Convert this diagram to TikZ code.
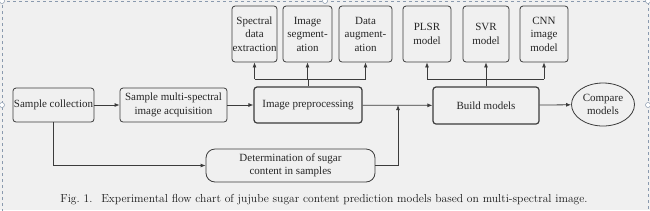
\documentclass[tikz,border=0pt]{standalone}
\usepackage{fontspec}
\newfontfamily\timesfont{Liberation Serif}
\usetikzlibrary{shapes.geometric,arrows.meta}
\definecolor{bgcol}{HTML}{F0F0F0}
\definecolor{linecol}{HTML}{3C3C3C}
\definecolor{framecol}{HTML}{8A9AAE}
\begin{document}
\begin{tikzpicture}[
        x=1pt, y=-1pt,
        box/.style={draw=linecol, line width=0.8pt, rounded corners=3pt, align=center, inner sep=0pt,
            font=\timesfont\fontsize{11}{13.5}\selectfont, text=black!85},
        topbox/.style={box, minimum height=56pt},
        flow/.style={-{Latex[length=5pt,width=4pt]}, draw=linecol, line width=0.8pt},
        wire/.style={draw=linecol, line width=0.8pt}
    ]
        \fill[bgcol] (0,0) rectangle (650,210);
        \useasboundingbox (0,0) rectangle (650,210);
        \draw[framecol, dashed, line width=0.6pt] (2,212) -- (2,1) -- (648,1) -- (648,212);
        \foreach \p in {(2,1),(325,1),(648,1),(2,105),(648,105)}
            \draw[framecol, fill=white, line width=0.5pt] \p circle (2.5pt);

        % main row
        \node[box, minimum width=81pt, minimum height=34pt] (collect) at (53.5,105) {Sample collection};
        \node[box, minimum width=107pt, minimum height=34pt] (acquire) at (173.5,105) {Sample multi-spectral\\image acquisition};
        \node[box, line width=1.2pt, minimum width=108pt, minimum height=36pt] (preproc) at (308,105) {Image preprocessing};
        \node[box, line width=1.2pt, minimum width=106pt, minimum height=37pt] (build) at (486,105.5) {Build models};
        \node[box, ellipse, minimum width=63pt, minimum height=43pt] (compare) at (603,104.5) {Compare\\models};
        \node[box, rounded corners=9pt, minimum width=169pt, minimum height=33pt] (sugar) at (290.5,165.5) {Determination of sugar\\content in samples};

        % top row
        \node[topbox, minimum width=45pt] (spectral) at (254.5,34) {Spectral\\data\\extraction};
        \node[topbox, minimum width=49pt] (segment) at (307.5,34) {Image\\segment-\\ation};
        \node[topbox, minimum width=53pt] (augment) at (365.5,34) {Data\\augment-\\ation};
        \node[topbox, minimum width=48pt] (plsr) at (427,34) {PLSR\\model};
        \node[topbox, minimum width=46pt] (svr) at (486,34) {SVR\\model};
        \node[topbox, minimum width=48pt] (cnn) at (544,34) {CNN\\image\\model};

        \node[font=\fontsize{11.6}{13}\selectfont, text=black!90] (caption) at (324,200) {Fig.~1.~ Experimental flow chart of jujube sugar content prediction models based on multi-spectral image.};

        \coordinate (bus1) at (308,79);
        \coordinate (bus2) at (486,79);
        \coordinate (join) at (398,105);

        \draw[flow] (collect) -- (acquire);
        \draw[flow] (acquire) -- (preproc);
        \draw[flow] (preproc) -- (build);
        \draw[flow] (build) -- (compare);

        \draw[wire] (preproc.north) -- (bus1);
        \draw[wire] (spectral.south |- bus1) -- (augment.south |- bus1);
        \foreach \n in {spectral,segment,augment}
            \draw[flow] (\n.south |- bus1) -- (\n.south);

        \draw[wire] (build.north) -- (bus2);
        \draw[wire] (plsr.south |- bus2) -- (cnn.south |- bus2);
        \foreach \n in {plsr,svr,cnn}
            \draw[flow] (\n.south |- bus2) -- (\n.south);

        \draw[flow] (collect.south) |- (sugar.west);
        \draw[flow] (sugar.east) -| (join);
    \end{tikzpicture}
\end{document}
